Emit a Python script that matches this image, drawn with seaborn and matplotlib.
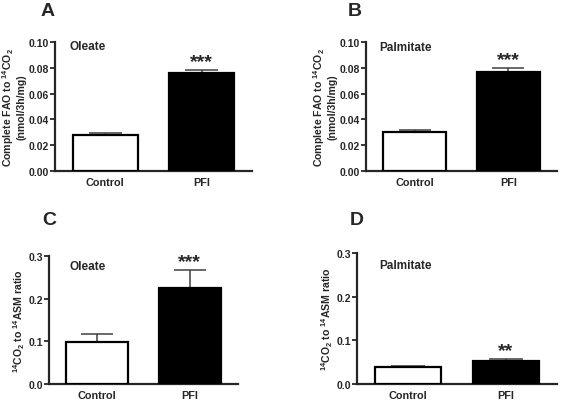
import numpy as np
import matplotlib
matplotlib.use("Agg")
import matplotlib.pyplot as plt
import seaborn as sns

# Datos de los cuatro paneles
groups = ["Control", "PFI"]
oleate_fao = [0.028, 0.076]
oleate_fao_err = [0.0013, 0.0022]
palm_fao = [0.0305, 0.077]
palm_fao_err = [0.0015, 0.0028]
oleate_ratio = [0.099, 0.225]
oleate_ratio_err = [0.019, 0.042]
palm_ratio = [0.038, 0.052]
palm_ratio_err = [0.004, 0.005]
stars = ["***", "***", "***", "**"]

sns.set_style("ticks")
plt.rcParams["font.family"] = ["Liberation Sans", "DejaVu Sans"]
plt.rcParams["font.weight"] = "bold"
plt.rcParams["mathtext.fontset"] = "custom"
plt.rcParams["mathtext.rm"] = "Liberation Sans:bold"
plt.rcParams["mathtext.it"] = "Liberation Sans:bold"
plt.rcParams["mathtext.bf"] = "Liberation Sans:bold"
plt.rcParams["mathtext.default"] = "regular"

W, H = 563, 402
fig = plt.figure(figsize=(W / 100, H / 100), dpi=100)


def box(l, r, t, b):
    return [l / W, 1 - b / H, (r - l) / W, (b - t) / H]


def panel(rect, vals, errs, ymax, step, fmt, ylabel, label, lxy, star, letter, letxy):
    ax = fig.add_axes(rect)
    sns.barplot(x=groups, y=vals, hue=groups, palette=["white", "black"],
                edgecolor="black", linewidth=1.6, width=0.67, legend=False, ax=ax,
                zorder=3)
    x = np.arange(len(vals))
    top = np.array(vals) + np.array(errs)
    ax.vlines(x, vals, top, color="#404040", lw=1.1, zorder=2)
    ax.hlines(top, x - 0.17, x + 0.17, color="#404040", lw=1.1, zorder=2)
    ax.annotate(star, (1, top[1]), xytext=(0, 0), textcoords="offset points",
                ha="center", va="bottom", fontsize=14, fontweight="bold")
    ax.set_xlim(-0.52, 1.52)
    ax.set_ylim(0, ymax)
    ticks = np.arange(0, ymax + step / 2, step)
    ax.set_yticks(ticks)
    ax.set_yticklabels([fmt.format(v) for v in ticks])
    ax.tick_params(axis="y", length=3.5, width=1.3, labelsize=7.5, pad=1)
    ax.tick_params(axis="x", length=0, labelsize=7.8, pad=4)
    ax.set_ylabel(ylabel, fontsize=7.6, fontweight="bold", labelpad=1,
                  linespacing=1.15)
    for s in ["left", "bottom"]:
        ax.spines[s].set_linewidth(1.6)
    sns.despine(ax=ax)
    ax.text(lxy[0], lxy[1], label, transform=ax.transAxes, ha="left", va="center",
            fontsize=8.5, fontweight="bold")
    fig.text(letxy[0] / W, 1 - letxy[1] / H, letter, ha="center", va="center",
             fontsize=14, fontweight="bold")
    return ax


fao_label = "Complete FAO to $^{14}$CO$_2$\n(nmol/3h/mg)"
ratio_label = "$^{14}$CO$_2$ to $^{14}$ASM ratio"

panel(box(55, 252, 43, 172), oleate_fao, oleate_fao_err, 0.10, 0.02, "{:.2f}",
      fao_label, "Oleate", (0.076, 0.969), stars[0], "A", (48, 11))
panel(box(366, 557, 43, 172), palm_fao, palm_fao_err, 0.10, 0.02, "{:.2f}",
      fao_label, "Palmitate", (0.068, 0.961), stars[1], "B", (355, 12))
panel(box(49, 238, 257, 385), oleate_ratio, oleate_ratio_err, 0.3, 0.1, "{:.1f}",
      ratio_label, "Oleate", (0.111, 0.92), stars[2], "C", (49, 221))
panel(box(357, 557, 254, 385), palm_ratio, palm_ratio_err, 0.3, 0.1, "{:.1f}",
      ratio_label, "Palmitate", (0.11, 0.908), stars[3], "D", (357, 221))

fig.savefig("out.png", dpi=100)
